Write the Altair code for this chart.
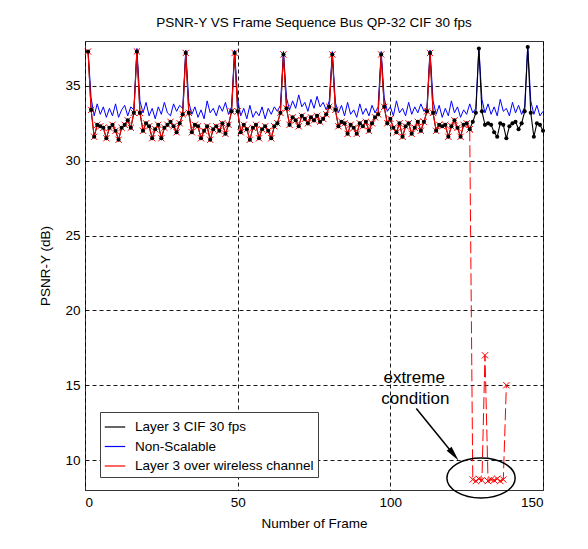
import altair as alt
import pandas as pd

# ---------------- data ----------------
frames = list(range(1, 151))

layer3_cif = [
    37.3, 33.4, 31.6, 32.4, 32.3, 32.2, 31.5, 32.2, 32.4, 32.0, 31.4, 32.2, 32.4, 32.7, 32.2, 33.2,
    37.3, 33.2, 32.0, 32.5, 32.3, 31.5, 32.1, 32.4, 31.5, 32.2, 32.4, 32.6, 32.3, 31.9, 32.5, 33.1,
    37.2, 33.2, 31.9, 32.4, 32.3, 31.5, 32.0, 32.3, 31.4, 32.1, 32.3, 32.0, 32.5, 31.8, 32.4, 33.3,
    37.2, 33.3, 31.9, 32.4, 32.1, 31.4, 32.2, 32.4, 31.5, 32.1, 32.3, 32.0, 31.5, 32.3, 32.5, 33.2,
    37.1, 33.5, 32.4, 32.9, 32.7, 32.3, 33.0, 32.8, 32.5, 32.9, 32.7, 33.0, 32.6, 32.8, 33.1, 33.6,
    37.1, 33.4, 32.3, 32.6, 32.5, 31.8, 32.4, 32.2, 31.8, 32.5, 32.3, 32.6, 32.0, 32.5, 32.9, 33.1,
    37.1, 33.6, 32.5, 32.8, 32.2, 31.9, 32.5, 31.6, 32.3, 32.5, 31.8, 32.2, 32.6, 32.0, 32.6, 33.3,
    37.2, 33.2, 32.0, 32.4, 32.3, 32.4, 31.6, 32.3, 32.7, 32.2, 31.6, 32.4, 32.5, 32.1, 32.6, 33.2,
    37.5, 33.3, 32.4, 32.5, 32.4, 31.9, 31.6, 32.5, 32.4, 31.5, 32.3, 32.5, 32.6, 32.1, 32.5, 33.3,
    37.6, 33.2, 31.6, 32.5, 32.4, 32.0,
]

non_scalable = [
    37.4, 34.2, 33.0, 33.8, 33.1, 33.6, 32.9, 33.5, 33.0, 33.8, 32.9, 33.4, 33.7, 33.0, 33.6, 33.4,
    37.5, 34.0, 33.2, 33.9, 33.0, 33.5, 32.8, 33.6, 33.1, 33.9, 33.2, 33.0, 33.8, 33.3, 33.7, 33.5,
    37.4, 33.9, 33.1, 33.6, 32.9, 33.4, 32.8, 34.0, 33.2, 33.5, 33.0, 33.7, 33.3, 33.9, 33.1, 33.6,
    37.4, 34.1, 33.0, 33.5, 32.8, 33.7, 32.9, 33.3, 33.0, 33.6, 32.8, 33.5, 33.1, 33.6, 33.3, 33.7,
    37.3, 34.2, 33.4, 34.0, 33.5, 34.4, 33.6, 33.9, 33.3, 34.1, 33.5, 34.3, 33.6, 33.9, 33.4, 34.0,
    37.3, 33.9, 33.2, 33.7, 33.0, 33.9, 33.1, 33.4, 32.9, 33.8, 33.1, 33.5, 33.0, 33.7, 33.2, 33.6,
    37.3, 34.2, 33.3, 33.6, 33.0, 34.0, 33.2, 33.5, 33.0, 33.9, 33.1, 33.6, 33.2, 33.8, 33.3, 33.6,
    37.4, 34.0, 33.1, 33.7, 32.9, 33.5, 33.0, 34.0, 33.2, 33.6, 32.9, 33.4, 33.1, 33.8, 33.2, 33.5,
    37.6, 34.1, 33.2, 33.8, 33.1, 33.6, 33.0, 34.1, 33.3, 33.5, 33.0, 33.9, 33.2, 33.7, 33.1, 33.6,
    37.7, 34.0, 33.1, 33.7, 33.0, 33.3,
]

# wireless channel: identical to layer 3 up to frame 126, then the loss
wireless_last_good_frame = 126
wireless_tail_frames = list(range(127, 139))
wireless_tail = [8.7, 8.6, 8.75, 8.65, 17.0, 8.6, 8.7, 8.65, 8.75, 8.6, 8.7, 15.0]

series_names = ["Layer 3 CIF 30 fps", "Non-Scalable", "Layer 3 over wireless channel"]
series_colors = ["#000000", "#0000ff", "#ff0000"]

# annotation
annot_lines = ["extreme", "condition"]
annot_x = [107.8, 108.2]
annot_y = [15.45, 14.05]
ellipse_x, ellipse_y = [129.7], [8.8]
arrow_x, arrow_y, arrow_x2, arrow_y2 = [108.5], [13.45], [121.0], [10.3]
arrowhead_x, arrowhead_y = [120.8], [10.36]

# ---------------- tables ----------------
rows = []
for f, v in zip(frames, layer3_cif):
    rows.append({"frame": f, "psnr": v, "series": series_names[0], "part": "solid"})
for f, v in zip(frames, non_scalable):
    rows.append({"frame": f, "psnr": v, "series": series_names[1], "part": "solid"})
for f, v in zip(frames[:wireless_last_good_frame], layer3_cif[:wireless_last_good_frame]):
    rows.append({"frame": f, "psnr": v, "series": series_names[2], "part": "solid"})
tail_f = [wireless_last_good_frame] + wireless_tail_frames
tail_v = [layer3_cif[wireless_last_good_frame - 1]] + wireless_tail
for f, v in zip(tail_f, tail_v):
    rows.append({"frame": f, "psnr": v, "series": series_names[2], "part": "dash"})
df = pd.DataFrame(rows)

font = "Liberation Sans"

xenc = alt.X("frame:Q", scale=alt.Scale(domain=[0, 150], nice=False),
             axis=alt.Axis(values=[0, 50, 100, 150], title="Number of Frame"))
yenc = alt.Y("psnr:Q", scale=alt.Scale(domain=[8, 38], nice=False, zero=False),
             axis=alt.Axis(values=[10, 15, 20, 25, 30, 35], title="PSNR-Y (dB)"))
cenc = alt.Color("series:N",
                 scale=alt.Scale(domain=series_names, range=series_colors),
                 legend=alt.Legend(title=None, orient="none", legendX=15, legendY=371,
                                   symbolType="stroke", symbolSize=420, symbolStrokeWidth=1.2,
                                   labelFont=font, labelFontSize=13.5, labelColor="black",
                                   labelOffset=9, rowPadding=1.5, padding=4,
                                   fillColor="white", strokeColor="#404040",
                                   labelLimit=300))

base = alt.Chart(df)

blue_line = base.transform_filter(alt.datum.series == series_names[1]).mark_line(
    strokeWidth=1, clip=True).encode(x=xenc, y=yenc, color=cenc, order="frame:Q")
black_line = base.transform_filter(alt.datum.series == series_names[0]).mark_line(
    strokeWidth=1.1, clip=True).encode(x=xenc, y=yenc, color=cenc, order="frame:Q")
red_solid = base.transform_filter(
    (alt.datum.series == series_names[2]) & (alt.datum.part == "solid")).mark_line(
    strokeWidth=1, clip=True).encode(x=xenc, y=yenc, color=cenc, order="frame:Q")
red_dash = base.transform_filter(
    (alt.datum.series == series_names[2]) & (alt.datum.part == "dash")).mark_line(
    strokeWidth=1, strokeDash=[12, 4], clip=True).encode(x=xenc, y=yenc, color=cenc, order="frame:Q")
red_marks = base.transform_filter(alt.datum.series == series_names[2]).mark_point(
    shape="M -1 -1 L 1 1 M -1 1 L 1 -1", size=40, filled=False, color="#ff0000",
    strokeWidth=1, opacity=1).encode(x="frame:Q", y="psnr:Q")
black_dots = base.transform_filter(alt.datum.series == series_names[0]).mark_point(
    shape="circle", size=17, filled=True, color="#000000", opacity=1).encode(
    x="frame:Q", y="psnr:Q")

annot_df = pd.DataFrame({"t": annot_lines, "x": annot_x, "y": annot_y})
annot = alt.Chart(annot_df).mark_text(font=font, fontSize=17, color="black",
                                      align="center", baseline="middle").encode(
    x="x:Q", y="y:Q", text="t:N")

ell_df = pd.DataFrame({"x": ellipse_x, "y": ellipse_y})
ellipse = alt.Chart(ell_df).mark_point(
    shape="M -1 0 C -1 -0.324 -0.552 -0.586 0 -0.586 C 0.552 -0.586 1 -0.324 1 0 "
          "C 1 0.324 0.552 0.586 0 0.586 C -0.552 0.586 -1 0.324 -1 0 Z",
    size=4660, filled=False, color="black", strokeWidth=1.5, opacity=1).encode(x="x:Q", y="y:Q")

arrow_df = pd.DataFrame({"x": arrow_x, "y": arrow_y, "x2": arrow_x2, "y2": arrow_y2})
arrow = alt.Chart(arrow_df).mark_rule(color="black", strokeWidth=1.5).encode(
    x="x:Q", y="y:Q", x2="x2:Q", y2="y2:Q")
head_df = pd.DataFrame({"x": arrowhead_x, "y": arrowhead_y})
arrowhead = alt.Chart(head_df).mark_point(
    shape="M 0 -1 L 0.42 1 L -0.42 1 Z", size=225, filled=True, color="black",
    angle=141, opacity=1).encode(x="x:Q", y="y:Q")

chart = alt.layer(
    blue_line, black_line, red_solid, red_dash, red_marks, black_dots,
    annot, ellipse, arrow, arrowhead,
).properties(
    width=458, height=449,
    title=alt.TitleParams("PSNR-Y VS Frame Sequence Bus QP-32 CIF 30 fps",
                          font=font, fontSize=13.5, fontWeight="normal",
                          color="black", anchor="middle", offset=12),
    autosize=alt.AutoSizeParams(type="none"),
    padding={"left": 77, "top": 33, "right": 20, "bottom": 45},
).configure_view(
    stroke="#333333", strokeWidth=1
).configure_axis(
    grid=True, gridColor="#000000", gridDash=[4, 3], gridWidth=1, gridOpacity=0.9,
    domain=False, ticks=False, labelFont=font, labelFontSize=13.5, labelColor="black",
    labelPadding=5, titleFont=font, titleFontSize=13.5, titleFontWeight="normal",
    titleColor="black",
).configure_axisY(titlePadding=12).configure_axisX(titlePadding=8)

chart.save("out.html", embed_options={"renderer": "svg", "actions": False})
